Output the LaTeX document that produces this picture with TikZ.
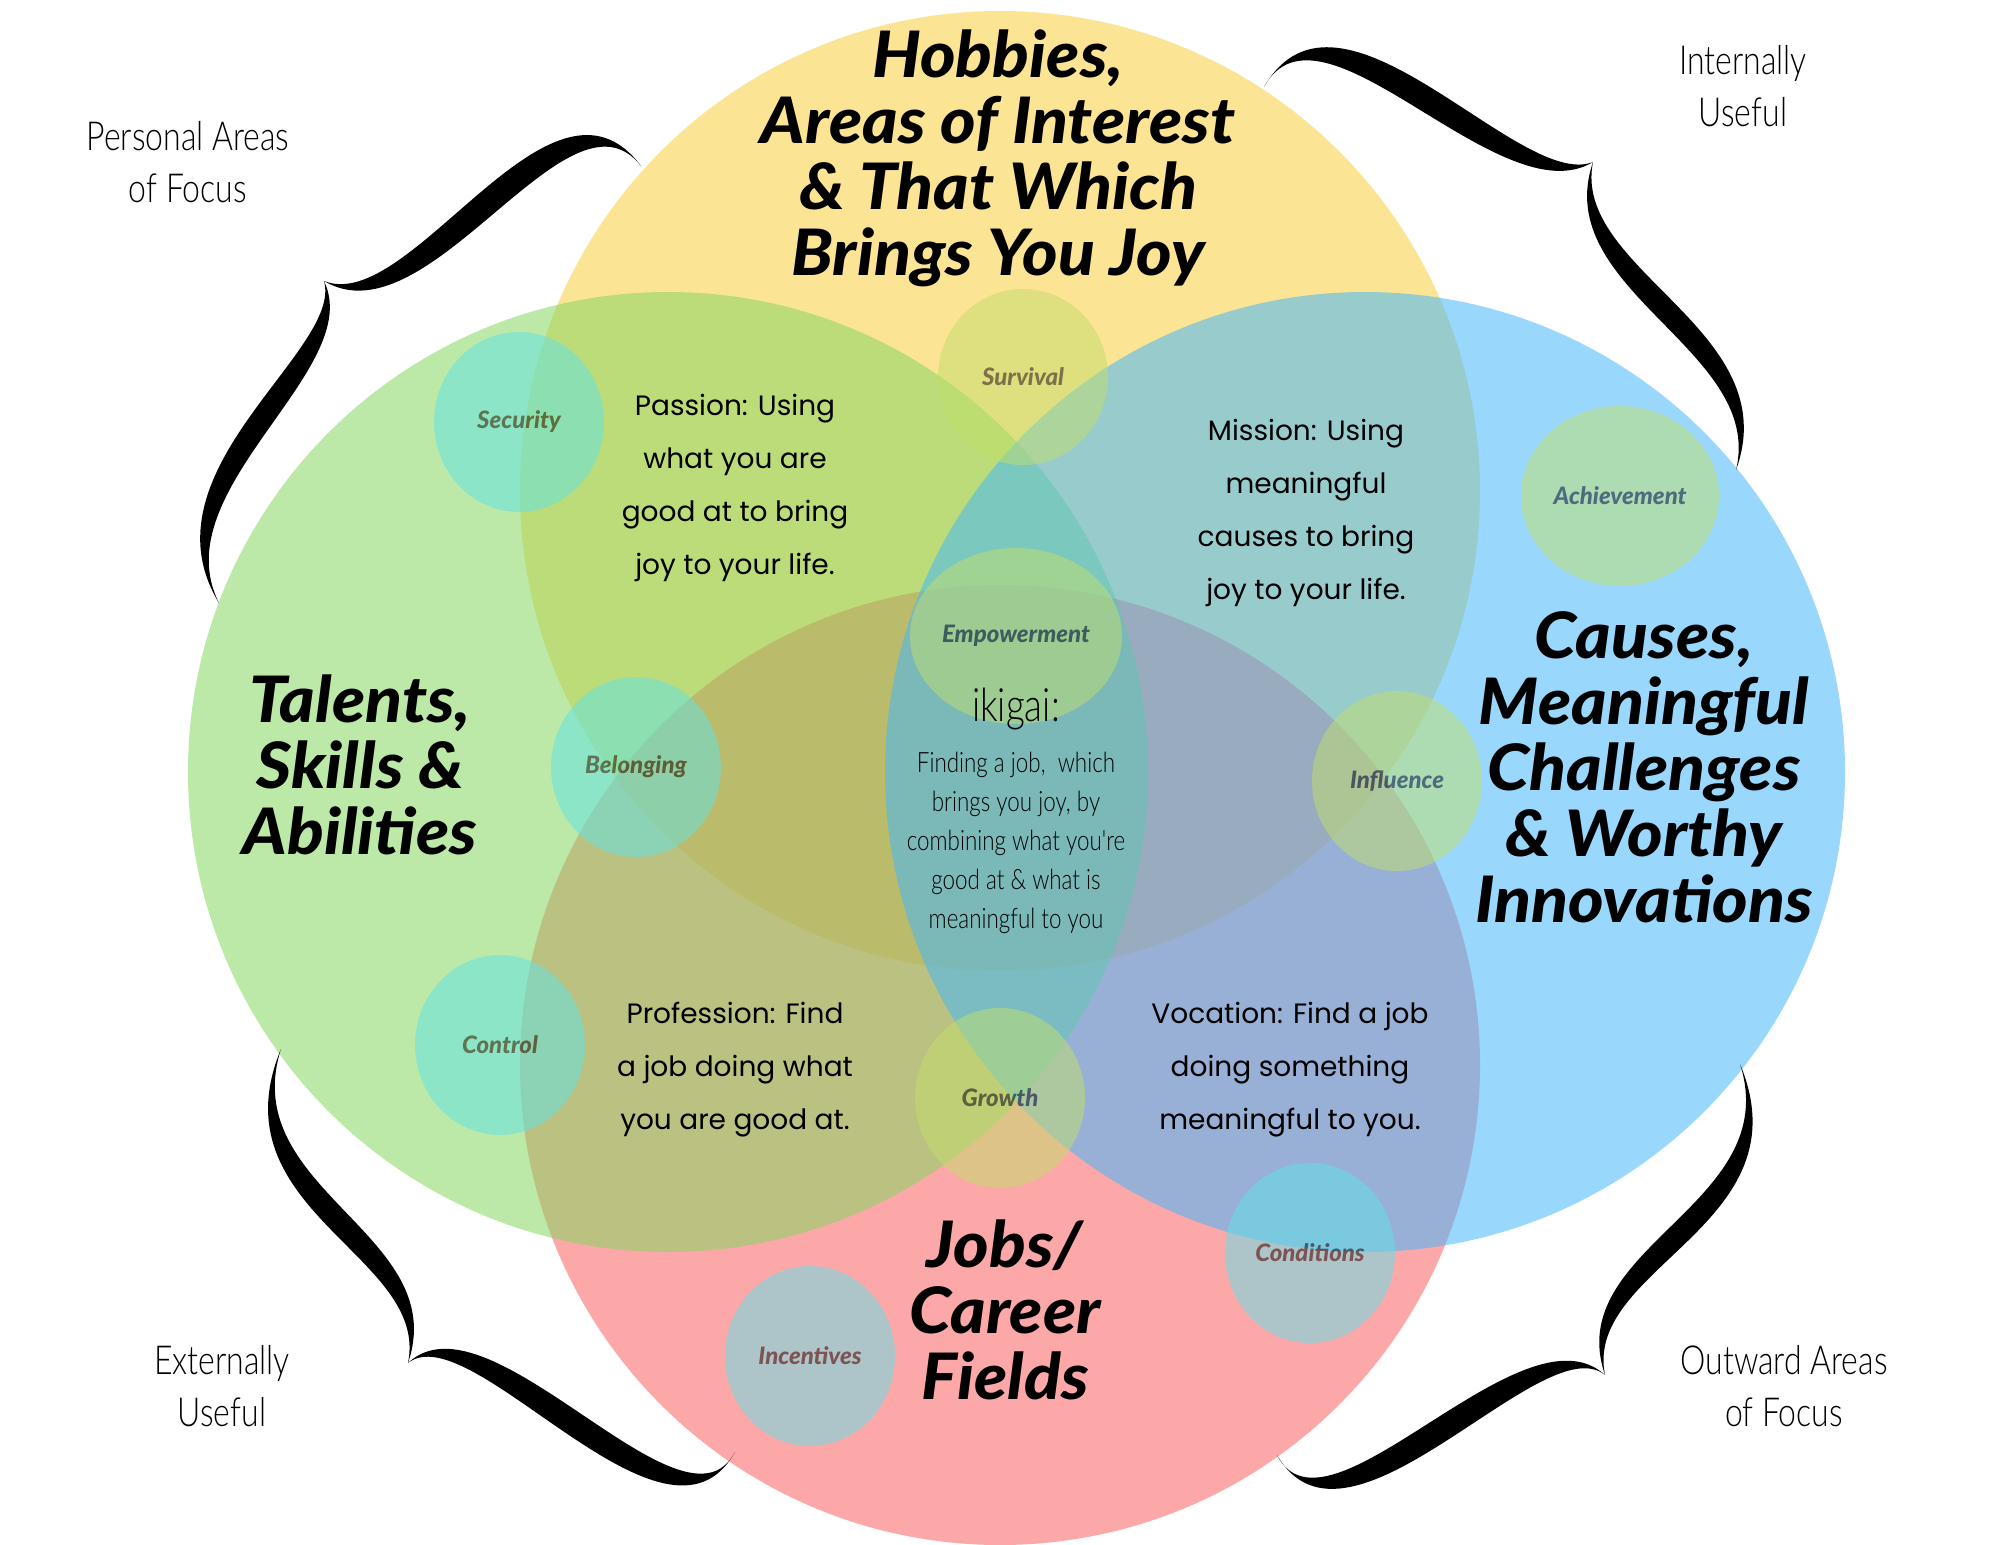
\documentclass[tikz,border=0pt]{standalone}
\usepackage{fontspec}
\setmainfont{Lato}
\newfontfamily\bodyfont{Poppins}
\newfontfamily\thinfont{Lato Light}[FakeStretch=0.8]
\newfontfamily\heavyfont{Lato Black}
\newfontfamily\headfont{Lato Black}[FakeStretch=1.06]
\usetikzlibrary{calc}
\definecolor{cY}{RGB}{250,206,62}
\definecolor{cG}{RGB}{135,215,97}
\definecolor{cB}{RGB}{71,184,250}
\definecolor{cR}{RGB}{251,97,97}
\definecolor{cT}{RGB}{95,227,232}
\definecolor{cL}{RGB}{194,222,106}
\tikzset{
  bigc/.style={fill opacity=0.55},
  head/.style={font=\headfont\fontsize{32}{33}\selectfont\itshape, align=center, text=black, inner sep=0pt},
  bodytxt/.style={font=\bodyfont\fontsize{14}{26.5}\selectfont, align=center, inner sep=0pt},
  thin/.style={font=\thinfont\fontsize{20}{26}\selectfont, align=center, inner sep=0pt},
  lbl/.style={font=\heavyfont\fontsize{12}{14}\selectfont\itshape, text=black, inner sep=0pt},
}
\newcommand{\smallc}[7]{%
  \begin{scope}[transparency group, opacity=0.5]
    \fill[#6] (#2,#3) ellipse [x radius=#4pt, y radius=#5pt];
    \node[lbl] (#1) at (#2,#3) {#7};
  \end{scope}}
\newcommand{\arm}[6]{%
  \fill[black] (#1) .. controls ($(#2)+(#5,#6)$) and ($(#3)+(#5,#6)$) .. (#4)
     .. controls ($(#3)-(#5,#6)$) and ($(#2)-(#5,#6)$) .. (#1) -- cycle;}
\begin{document}
\begin{tikzpicture}[x=0.5pt, y=-0.5pt]
\useasboundingbox (0,0) rectangle (2000,1545);
\fill[white] (0,0) rectangle (2000,1545);
% big circles
\fill[cY, bigc] (1000,491) circle [radius=240pt];
\fill[cR, bigc] (1000,1065) circle [radius=240pt];
\fill[cG, bigc] (668,772) circle [radius=240pt];
\fill[cB, bigc] (1365,772) circle [radius=240pt];
% small circles
\smallc{sec}{519}{422}{42.5}{45}{cT}{Security}
\smallc{sur}{1023}{377}{42.5}{44}{cL}{Survival}
\smallc{emp}{1016}{636}{53}{44}{cL}{Empowerment}
\smallc{ach}{1620}{496}{49.5}{45}{cL}{Achievement}
\smallc{bel}{636}{767}{42.5}{45}{cT}{Belonging}
\smallc{inf}{1397}{781}{42.5}{45}{cL}{Influence}
\smallc{con}{500}{1045}{42.5}{45}{cT}{Control}
\smallc{gro}{1000}{1098}{42.5}{45}{cL}{Growth}
\smallc{cnd}{1310}{1253}{42.5}{45}{cT}{Conditions}
\smallc{inc}{810}{1356}{42.5}{45}{cT}{Incentives}
% headings
\node[head] (hob) at (998,158) {Hobbies,\\Areas of Interest\\\& That Which\\Brings You Joy};
\node[head] (tal) at (360,765) {Talents,\\Skills \&\\Abilities};
\node[head] (cau) at (1644,767) {Causes,\\Meaningful\\Challenges\\\& Worthy\\Innovations};
\node[head] (job) at (1005,1310) {Jobs/\\Career\\Fields};
% body texts
\node[bodytxt] (pas) at (735,488) {Passion: Using\\what you are\\good at to bring\\joy to your life.};
\node[bodytxt] (mis) at (1306,513) {Mission: Using\\meaningful\\causes to bring\\joy to your life.};
\node[bodytxt] (pro) at (735,1070) {Profession: Find\\a job doing what\\you are good at.};
\node[bodytxt] (voc) at (1290,1070) {Vocation: Find a job\\doing something\\meaningful to you.};
% ikigai
\node[font=\thinfont\fontsize{23}{28}\selectfont, inner sep=0pt] (iki) at (1016,709) {ikigai:};
\node[font=\thinfont\fontsize{14}{19.5}\selectfont, align=center, inner sep=0pt] (ikb) at (1016,843) {Finding a job,\ \ which\\brings you joy, by\\combining what you're\\good at \& what is\\meaningful to you};
% corner labels
\node[thin] (paof) at (188,162) {Personal Areas\\of Focus};
\node[thin] (iu) at (1743,86) {Internally\\Useful};
\node[thin] (eu) at (222,1386) {Externally\\Useful};
\node[thin] (oaof) at (1784,1386) {Outward Areas\\of Focus};
% braces
\arm{641,166}{560,60}{420,330}{324,281}{9}{14}
\arm{219,603}{150,480}{355,360}{324,281}{11.5}{9.5}
\arm{1264,87}{1330,-30}{1510,205}{1593,162}{-9.5}{13.5}
\arm{1736,470}{1776,340}{1560,280}{1593,162}{11}{-10}
\arm{281,1049}{225,1200}{441,1245}{408,1363}{11}{-10.5}
\arm{735,1452}{675,1562}{480,1300}{408,1363}{-9}{13.5}
\arm{1740,1064}{1796,1215}{1572,1257}{1605,1375}{11}{10}
\arm{1277,1455}{1337,1565}{1533,1312}{1605,1375}{10.5}{12.5}
\end{tikzpicture}
\end{document}
